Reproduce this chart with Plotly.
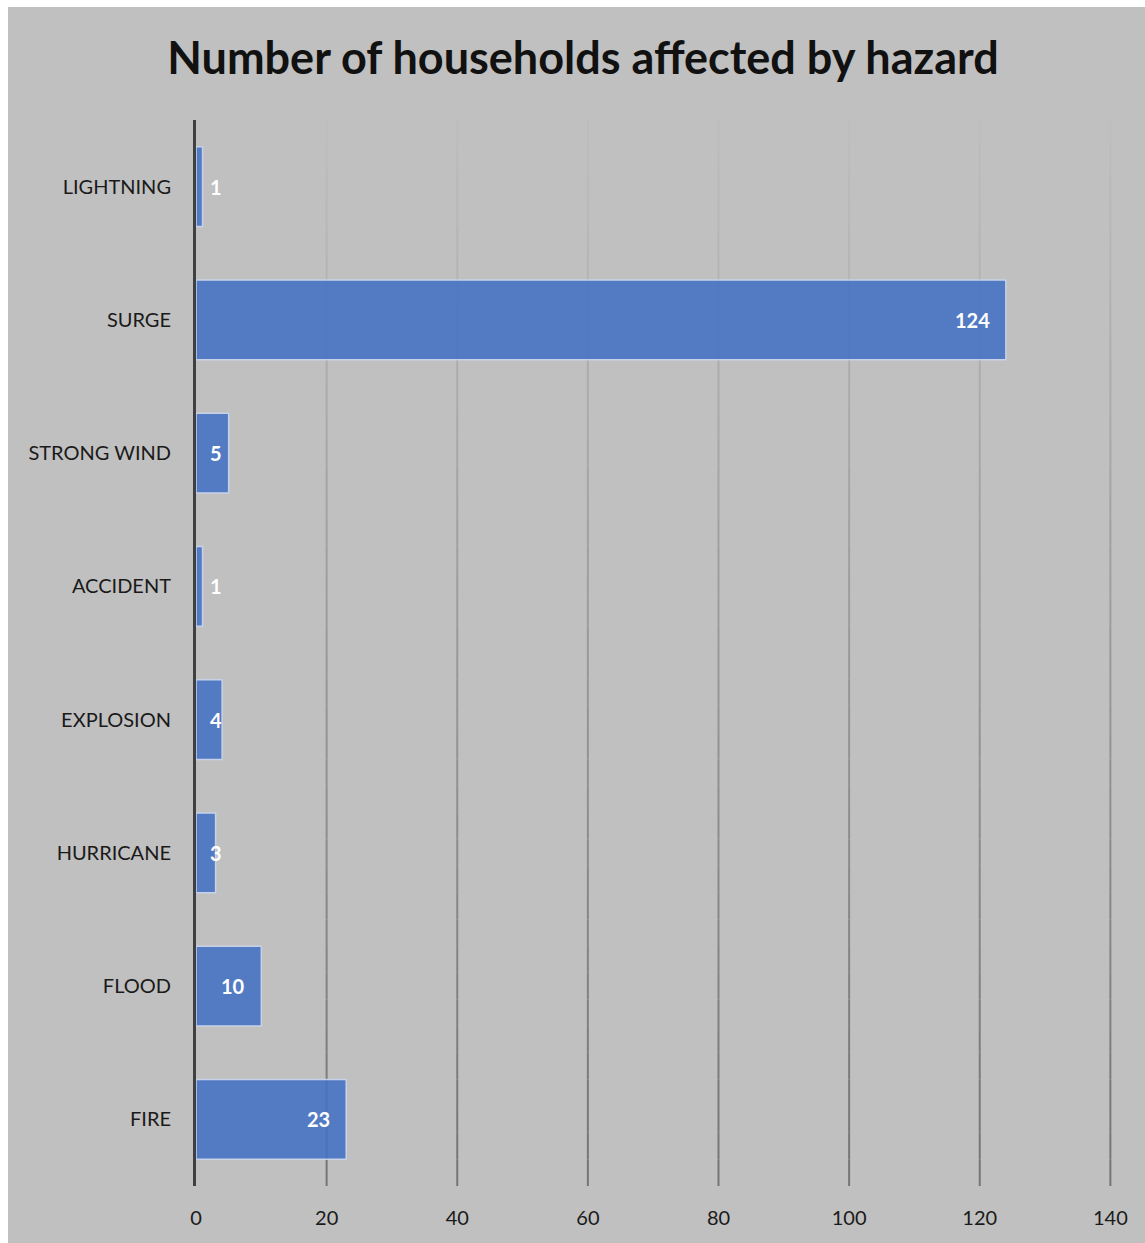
import plotly.graph_objects as go

# Hazard categories, listed top to bottom, and households affected
hazards = ["LIGHTNING", "SURGE", "STRONG WIND", "ACCIDENT", "EXPLOSION", "HURRICANE", "FLOOD", "FIRE"]
households = [1, 124, 5, 1, 4, 3, 10, 23]
x_ticks = [0, 20, 40, 60, 80, 100, 120, 140]

W, H = 1145, 1243
L, R, T, B = 196, 33, 120, 57
BG = "#c0c0c0"
FONT = "Lato, Open Sans, sans-serif"

fig = go.Figure()
fig.add_trace(go.Bar(
    y=hazards,
    x=households,
    orientation="h",
    marker=dict(color="#4472c4", opacity=0.88, line=dict(color="#c9d5ee", width=1.5)),
    hoverinfo="x+y",
))

# Value labels: inside the bar end, or just right of the axis for short bars
annotations = []
for name, v in zip(hazards, households):
    if v > 6:
        annotations.append(dict(x=v, y=name, xref="x", yref="y", text=f"<b>{v}</b>",
                                showarrow=False, xanchor="right", xshift=-14,
                                font=dict(family=FONT, size=20, color="white")))
    else:
        annotations.append(dict(x=0, y=name, xref="x", yref="y", text=f"<b>{v}</b>",
                                showarrow=False, xanchor="center", xshift=20,
                                font=dict(family=FONT, size=20, color="white")))

# Vertical gridlines fading from light at the top to darker at the bottom
shapes = []
n_seg = 40
top_c = (190, 190, 190)
bot_c = (116, 116, 116)
for t in x_ticks[1:]:
    for i in range(n_seg):
        f = (i + 0.5) / n_seg
        c = tuple(round(top_c[k] + (bot_c[k] - top_c[k]) * f) for k in range(3))
        shapes.append(dict(type="line", xref="x", yref="paper", x0=t, x1=t,
                           y0=1 - i / n_seg, y1=1 - (i + 1) / n_seg,
                           line=dict(color="rgb(%d,%d,%d)" % c, width=2), layer="below"))

# White page strip above and to the left of the chart area
pw = W - L - R
ph = H - T - B
shapes.append(dict(type="rect", xref="paper", yref="paper", x0=-L / pw, x1=(8 - L) / pw,
                   y0=-1, y1=2, fillcolor="white", line=dict(width=0), layer="below"))
shapes.append(dict(type="rect", xref="paper", yref="paper", x0=-1, x1=2,
                   y0=1 + (T - 7) / ph, y1=1 + T / ph,
                   fillcolor="white", line=dict(width=0), layer="below"))

fig.update_layout(
    width=W, height=H,
    margin=dict(l=L, r=R, t=T, b=B),
    paper_bgcolor=BG, plot_bgcolor=BG,
    title=dict(text="<b>Number of households affected by hazard</b>",
               x=583 / W, xanchor="center", y=1 - 58 / H, yanchor="middle",
               font=dict(family=FONT, size=45, color="#111111")),
    font=dict(family=FONT, size=20, color="#1a1a1a"),
    bargap=0.4,
    showlegend=False,
    shapes=shapes,
    annotations=annotations,
    xaxis=dict(range=[0, 140.25], tickvals=x_ticks, showgrid=False, zeroline=False,
               showline=False, ticks="", ticklabelstandoff=18,
               tickfont=dict(family=FONT, size=20, color="#1a1a1a"), fixedrange=True),
    yaxis=dict(categoryorder="array", categoryarray=hazards[::-1], showgrid=False,
               showline=True, linecolor="#404040", linewidth=3, ticks="",
               ticklabelstandoff=18, zeroline=False,
               tickfont=dict(family=FONT, size=20, color="#1a1a1a"), fixedrange=True),
)

fig.write_html("out.html")
